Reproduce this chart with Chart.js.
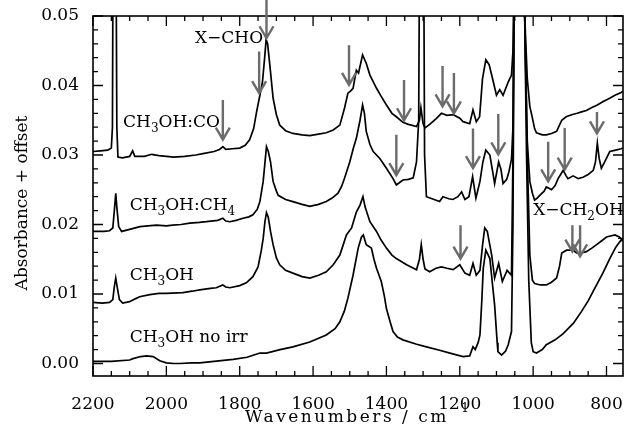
<!DOCTYPE html>
<html>
<head>
<meta charset="utf-8">
<script src="https://cdn.jsdelivr.net/npm/chart.js@4.4.0/dist/chart.umd.min.js"></script>
<style>
  html, body { margin: 0; padding: 0; background: #fff; }
  #wrap { width: 625px; height: 429px; }
</style>
</head>
<body>
<div id="wrap"><canvas id="irChart" width="625" height="429"></canvas></div>
<script>
// IR spectra, wavenumber (cm-1) / absorbance + offset

// CH3OH:CO
var coWn  = [2200, 2180, 2160, 2150, 2147, 2144, 2139, 2135, 2132, 2120, 2100, 2092, 2086, 2060, 2040, 2020, 2000, 1980, 1950, 1920, 1900, 1870, 1855, 1846, 1838, 1820, 1800, 1785, 1773, 1762, 1754, 1745, 1738, 1732, 1728, 1724, 1718, 1709, 1700, 1691, 1675, 1655, 1630, 1609, 1585, 1564, 1545, 1527, 1514, 1505, 1498, 1491, 1482, 1476, 1465, 1455, 1445, 1427, 1415, 1400, 1385, 1373, 1355, 1340, 1318, 1310, 1306, 1300, 1295, 1282, 1265, 1250, 1235, 1218, 1200, 1191, 1173, 1164, 1155, 1146, 1138, 1129, 1120, 1113, 1100, 1091, 1082, 1068, 1059, 1055, 1051, 1045, 1030, 1023, 1016, 1009, 1004, 996, 991, 975, 964, 950, 936, 922, 910, 895, 880, 868, 855, 841, 825, 809, 790, 777, 760, 755];
var coAbs = [0.0305, 0.0306, 0.0307, 0.031, 0.034, 0.08, 0.08, 0.034, 0.0297, 0.0296, 0.0298, 0.0306, 0.0298, 0.0298, 0.0301, 0.0299, 0.0298, 0.0297, 0.0298, 0.0300, 0.0302, 0.0305, 0.0308, 0.0312, 0.0308, 0.0309, 0.031, 0.0314, 0.0322, 0.0338, 0.0362, 0.0386, 0.0405, 0.044, 0.0466, 0.046, 0.043, 0.0382, 0.0358, 0.0343, 0.0335, 0.0331, 0.0329, 0.0328, 0.033, 0.0332, 0.0336, 0.0343, 0.0368, 0.0389, 0.0392, 0.0396, 0.0422, 0.0418, 0.0444, 0.0432, 0.0415, 0.0396, 0.0385, 0.0372, 0.036, 0.0355, 0.0347, 0.0344, 0.0341, 0.035, 0.0368, 0.0345, 0.0339, 0.0344, 0.0352, 0.036, 0.0357, 0.0358, 0.0353, 0.0348, 0.0345, 0.0365, 0.0348, 0.0355, 0.041, 0.0437, 0.043, 0.0415, 0.0386, 0.0394, 0.0386, 0.0405, 0.0415, 0.045, 0.06, 0.15, 0.15, 0.05, 0.041, 0.037, 0.0358, 0.0338, 0.0332, 0.0329, 0.0329, 0.0331, 0.0334, 0.035, 0.0355, 0.0358, 0.036, 0.0362, 0.0364, 0.0368, 0.0372, 0.0377, 0.0382, 0.0386, 0.039, 0.0392];

// CH3OH:CH4
var ch4Wn  = [2200, 2170, 2155, 2146, 2141, 2138, 2135, 2130, 2122, 2100, 2072, 2050, 2027, 2000, 1983, 1960, 1936, 1910, 1891, 1860, 1846, 1838, 1827, 1810, 1791, 1775, 1764, 1752, 1745, 1736, 1731, 1727, 1722, 1716, 1709, 1700, 1695, 1675, 1655, 1630, 1609, 1585, 1564, 1548, 1532, 1522, 1514, 1500, 1490, 1482, 1472, 1465, 1460, 1455, 1445, 1436, 1418, 1400, 1382, 1373, 1365, 1355, 1340, 1327, 1318, 1312, 1308, 1300, 1296, 1291, 1270, 1255, 1246, 1230, 1219, 1205, 1195, 1186, 1175, 1165, 1156, 1145, 1137, 1129, 1118, 1110, 1105, 1094, 1088, 1082, 1072, 1066, 1059, 1055, 1051, 1045, 1030, 1023, 1016, 1009, 1002, 996, 989, 982, 970, 964, 957, 950, 940, 932, 925, 918, 910, 905, 891, 877, 864, 850, 836, 830, 825, 820, 814, 805, 791, 775, 760, 755];
var ch4Abs = [0.019, 0.019, 0.0191, 0.0195, 0.0225, 0.0245, 0.0225, 0.0197, 0.019, 0.0193, 0.0197, 0.0198, 0.0199, 0.0198, 0.0199, 0.02, 0.0202, 0.0203, 0.0204, 0.0206, 0.0209, 0.0205, 0.0204, 0.0206, 0.0209, 0.0211, 0.0214, 0.0222, 0.0233, 0.0262, 0.029, 0.0312, 0.0305, 0.029, 0.0262, 0.0248, 0.0242, 0.0236, 0.0233, 0.0229, 0.0226, 0.0229, 0.0233, 0.0238, 0.0245, 0.0255, 0.0267, 0.029, 0.031, 0.0324, 0.035, 0.0372, 0.036, 0.0334, 0.0315, 0.0305, 0.0295, 0.0281, 0.0266, 0.0257, 0.026, 0.0264, 0.0265, 0.0267, 0.029, 0.035, 0.08, 0.08, 0.03, 0.024, 0.0236, 0.0233, 0.024, 0.0237, 0.0236, 0.024, 0.0247, 0.0236, 0.024, 0.0269, 0.0238, 0.0262, 0.029, 0.0307, 0.03, 0.0275, 0.0259, 0.029, 0.028, 0.0259, 0.0265, 0.0276, 0.0294, 0.034, 0.06, 0.15, 0.15, 0.05, 0.032, 0.0262, 0.0245, 0.0235, 0.0238, 0.0242, 0.0248, 0.0254, 0.0252, 0.025, 0.0256, 0.0266, 0.0272, 0.0278, 0.027, 0.0266, 0.027, 0.0266, 0.0268, 0.0272, 0.0278, 0.029, 0.0317, 0.0295, 0.0281, 0.029, 0.0305, 0.0307, 0.0309, 0.031];

// CH3OH (irradiated)
var mWn  = [2200, 2175, 2155, 2146, 2142, 2138, 2134, 2128, 2119, 2100, 2085, 2073, 2045, 2020, 2000, 1955, 1930, 1909, 1880, 1864, 1846, 1838, 1827, 1800, 1782, 1764, 1750, 1741, 1736, 1731, 1727, 1722, 1716, 1709, 1700, 1691, 1675, 1655, 1630, 1609, 1585, 1564, 1545, 1527, 1509, 1495, 1482, 1472, 1464, 1458, 1445, 1427, 1415, 1400, 1385, 1373, 1345, 1318, 1310, 1305, 1300, 1295, 1282, 1265, 1250, 1235, 1218, 1200, 1186, 1173, 1164, 1155, 1145, 1138, 1132, 1125, 1113, 1105, 1094, 1084, 1071, 1059, 1055, 1051, 1045, 1030, 1023, 1016, 1009, 1002, 996, 980, 964, 950, 936, 928, 922, 909, 891, 882, 868, 855, 840, 827, 812, 800, 777, 765, 755];
var mAbs = [0.0088, 0.0087, 0.0088, 0.0092, 0.011, 0.0123, 0.011, 0.0092, 0.0087, 0.0089, 0.0093, 0.0096, 0.0099, 0.0101, 0.0101, 0.0102, 0.0104, 0.0106, 0.0108, 0.0109, 0.0113, 0.011, 0.0109, 0.0112, 0.0116, 0.0125, 0.0139, 0.0163, 0.018, 0.0205, 0.0217, 0.021, 0.019, 0.0171, 0.0152, 0.0142, 0.0134, 0.013, 0.0125, 0.0123, 0.0127, 0.0132, 0.0142, 0.0156, 0.0185, 0.0195, 0.0218, 0.0228, 0.024, 0.0225, 0.0204, 0.019, 0.0178, 0.0166, 0.0156, 0.0151, 0.0142, 0.0135, 0.015, 0.0171, 0.015, 0.0136, 0.0132, 0.0137, 0.0139, 0.0137, 0.0135, 0.0142, 0.013, 0.0127, 0.0144, 0.0127, 0.0134, 0.017, 0.0195, 0.019, 0.0156, 0.0123, 0.0144, 0.0118, 0.0134, 0.0127, 0.03, 0.06, 0.15, 0.15, 0.05, 0.03, 0.0156, 0.012, 0.0115, 0.0113, 0.0113, 0.0117, 0.0123, 0.014, 0.0159, 0.0163, 0.0163, 0.0159, 0.0159, 0.0161, 0.0166, 0.0171, 0.0177, 0.0182, 0.0185, 0.0182, 0.0176];

// CH3OH no irr
var nWn  = [2200, 2150, 2100, 2091, 2070, 2054, 2036, 2018, 2000, 1980, 1964, 1930, 1909, 1870, 1818, 1780, 1745, 1727, 1690, 1655, 1609, 1564, 1540, 1527, 1515, 1505, 1491, 1477, 1468, 1463, 1455, 1441, 1434, 1427, 1414, 1406, 1400, 1390, 1382, 1370, 1355, 1320, 1291, 1255, 1227, 1191, 1173, 1164, 1158, 1150, 1145, 1140, 1136, 1129, 1118, 1112, 1105, 1098, 1096, 1086, 1075, 1068, 1059, 1055, 1051, 1045, 1030, 1023, 1018, 1012, 1005, 1000, 991, 975, 964, 940, 918, 890, 868, 850, 827, 810, 791, 775, 764, 755];
var nAbs = [0.0003, 0.0003, 0.0005, 0.0007, 0.001, 0.0011, 0.001, 0.0004, 0.0001, 0.0, 0.0, 0.0001, 0.0001, 0.0003, 0.0006, 0.0009, 0.0015, 0.0015, 0.002, 0.0024, 0.0031, 0.0041, 0.005, 0.006, 0.0075, 0.0094, 0.0127, 0.0166, 0.0182, 0.0185, 0.0171, 0.0166, 0.015, 0.0137, 0.0118, 0.0098, 0.0079, 0.006, 0.0046, 0.0038, 0.0034, 0.0028, 0.0024, 0.0019, 0.0015, 0.001, 0.0011, 0.0024, 0.002, 0.003, 0.0041, 0.009, 0.0137, 0.0163, 0.0151, 0.012, 0.0084, 0.003, 0.0017, 0.0012, 0.0018, 0.0027, 0.0046, 0.02, 0.06, 0.15, 0.15, 0.05, 0.03, 0.012, 0.003, 0.0017, 0.0015, 0.002, 0.0027, 0.0034, 0.0043, 0.0058, 0.0075, 0.009, 0.0113, 0.013, 0.0151, 0.0167, 0.0175, 0.018];

// axes
var xTicks = [2200, 2000, 1800, 1600, 1400, 1200, 1000, 800];
var yTicks = [0.00, 0.01, 0.02, 0.03, 0.04, 0.05];

// arrows: wavenumber, tip, tail (absorbance units)
var arrowWn   = [1846, 1747, 1727, 1502, 1352, 1247, 1216, 1373, 1164, 1095, 959, 914, 826, 1198, 893, 872];
var arrowTip  = [0.0322, 0.0389, 0.0468, 0.0401, 0.0350, 0.0370, 0.0360, 0.0271, 0.0281, 0.0301, 0.0262, 0.0279, 0.0331, 0.0151, 0.0161, 0.0154];
var arrowTail = [0.0379, 0.0449, 0.0523, 0.0458, 0.0408, 0.0428, 0.0418, 0.0329, 0.0338, 0.0359, 0.0319, 0.0339, 0.0362, 0.0199, 0.0199, 0.0199];

// labels (text pieces: [string, 0 normal / 1 subscript])
var labels = [
    { wn: 1922, y: 0.0461, parts: [['X\u2212CHO', 0]] },
    { wn: 2118, y: 0.0341, parts: [['CH', 0], ['3', 1], ['OH:CO', 0]] },
    { wn: 2100, y: 0.0221, parts: [['CH', 0], ['3', 1], ['OH:CH', 0], ['4', 1]] },
    { wn: 2100, y: 0.0120, parts: [['CH', 0], ['3', 1], ['OH', 0]] },
    { wn: 2100, y: 0.0031, parts: [['CH', 0], ['3', 1], ['OH no irr', 0]] },
    { wn: 1000, y: 0.0214, parts: [['X\u2212CH', 0], ['2', 1], ['OH', 0]] }
];

var FONT = '"DejaVu Serif", serif';

function toPoints(wn, abs) {
    return wn.map(function (w, i) { return { x: w, y: abs[i] }; });
}

function drawParts(ctx, parts, x, y) {
    parts.forEach(function (p) {
        if (p[1] === 1) {
            ctx.font = '12px ' + FONT;
            ctx.fillText(p[0], x, y + 5);
        } else if (p[1] === 2) {
            ctx.font = '12px ' + FONT;
            ctx.fillText(p[0], x, y - 10);
        } else {
            ctx.font = '17px ' + FONT;
            ctx.fillText(p[0], x, y);
        }
        x += ctx.measureText(p[0]).width;
    });
}

var decorPlugin = {
    id: 'decor',
    afterDraw: function (chart) {
        var ctx = chart.ctx;
        var xs = chart.scales.x, ys = chart.scales.y;
        var a = chart.chartArea;
        ctx.save();

        // frame
        ctx.strokeStyle = '#000';
        ctx.lineWidth = 1.6;
        ctx.strokeRect(a.left, a.top, a.right - a.left, a.bottom - a.top);

        // x ticks (bottom and top, inward)
        ctx.lineWidth = 1.3;
        ctx.beginPath();
        for (var w = 800; w <= 2200; w += 50) {
            var px = xs.getPixelForValue(w);
            var len = (w % 200 === 0) ? 10 : 5;
            ctx.moveTo(px, a.bottom); ctx.lineTo(px, a.bottom - len);
            ctx.moveTo(px, a.top); ctx.lineTo(px, a.top + len);
        }
        // y ticks (left and right, inward)
        for (var k = 0; k <= 25; k++) {
            var v = k * 0.002;
            var py = ys.getPixelForValue(v);
            var l2 = (k % 5 === 0) ? 10 : 5;
            ctx.moveTo(a.left, py); ctx.lineTo(a.left + l2, py);
            ctx.moveTo(a.right, py); ctx.lineTo(a.right - l2, py);
        }
        ctx.stroke();

        // arrows
        ctx.strokeStyle = '#6b6b6b';
        ctx.lineWidth = 2.4;
        ctx.lineCap = 'butt';
        arrowWn.forEach(function (wn, i) {
            var x = xs.getPixelForValue(wn);
            var yt = ys.getPixelForValue(arrowTip[i]);
            var y0 = ys.getPixelForValue(arrowTail[i]);
            ctx.beginPath();
            ctx.moveTo(x, y0); ctx.lineTo(x, yt - 1);
            ctx.moveTo(x - 7, yt - 12); ctx.lineTo(x, yt); ctx.lineTo(x + 7, yt - 12);
            ctx.stroke();
        });

        // labels
        ctx.fillStyle = '#000';
        ctx.textBaseline = 'alphabetic';
        ctx.textAlign = 'left';
        labels.forEach(function (lb) {
            drawParts(ctx, lb.parts, xs.getPixelForValue(lb.wn), ys.getPixelForValue(lb.y));
        });

        // axis titles (wide-set like the original)
        ctx.letterSpacing = '2.5px';
        drawParts(ctx, [['Wavenumbers / cm', 0], ['\u22121', 2]], 245, 422);
        ctx.letterSpacing = '0px';

        ctx.translate(27, 203);
        ctx.rotate(-Math.PI / 2);
        ctx.font = '17px ' + FONT;
        ctx.textAlign = 'center';
        ctx.fillText('Absorbance + offset', 0, 0);
        ctx.restore();
    }
};

var lineStyle = {
    borderColor: '#000',
    borderWidth: 1.7,
    pointRadius: 0,
    tension: 0,
    fill: false
};

new Chart(document.getElementById('irChart'), {
    type: 'line',
    data: {
        datasets: [
            Object.assign({ label: 'CH3OH:CO', data: toPoints(coWn, coAbs) }, lineStyle),
            Object.assign({ label: 'CH3OH:CH4', data: toPoints(ch4Wn, ch4Abs) }, lineStyle),
            Object.assign({ label: 'CH3OH', data: toPoints(mWn, mAbs) }, lineStyle),
            Object.assign({ label: 'CH3OH no irr', data: toPoints(nWn, nAbs) }, lineStyle)
        ]
    },
    options: {
        responsive: false,
        animation: false,
        parsing: false,
        layout: { autoPadding: false, padding: { top: 16, right: 2, left: 0, bottom: 0 } },
        plugins: {
            legend: { display: false },
            tooltip: { enabled: false }
        },
        scales: {
            x: {
                type: 'linear',
                reverse: true,
                min: 755,
                max: 2200,
                grid: { display: false },
                border: { display: false },
                afterBuildTicks: function (scale) {
                    scale.ticks = xTicks.map(function (v) { return { value: v }; });
                },
                afterFit: function (scale) {
                    scale.height = 53;
                    scale.paddingLeft = 0;
                    scale.paddingRight = 0;
                },
                ticks: {
                    color: '#000',
                    font: { family: FONT, size: 17 },
                    padding: 10,
                    maxRotation: 0,
                    autoSkip: false,
                    callback: function (v) { return String(v); }
                }
            },
            y: {
                type: 'linear',
                min: -0.0018,
                max: 0.05,
                grid: { display: false },
                border: { display: false },
                afterBuildTicks: function (scale) {
                    scale.ticks = yTicks.map(function (v) { return { value: v }; });
                },
                afterFit: function (scale) {
                    scale.width = 93;
                    scale.paddingTop = 0;
                    scale.paddingBottom = 0;
                },
                ticks: {
                    color: '#000',
                    font: { family: FONT, size: 17 },
                    padding: 6,
                    autoSkip: false,
                    callback: function (v) { return v.toFixed(2); }
                }
            }
        }
    },
    plugins: [decorPlugin]
});
</script>
</body>
</html>
